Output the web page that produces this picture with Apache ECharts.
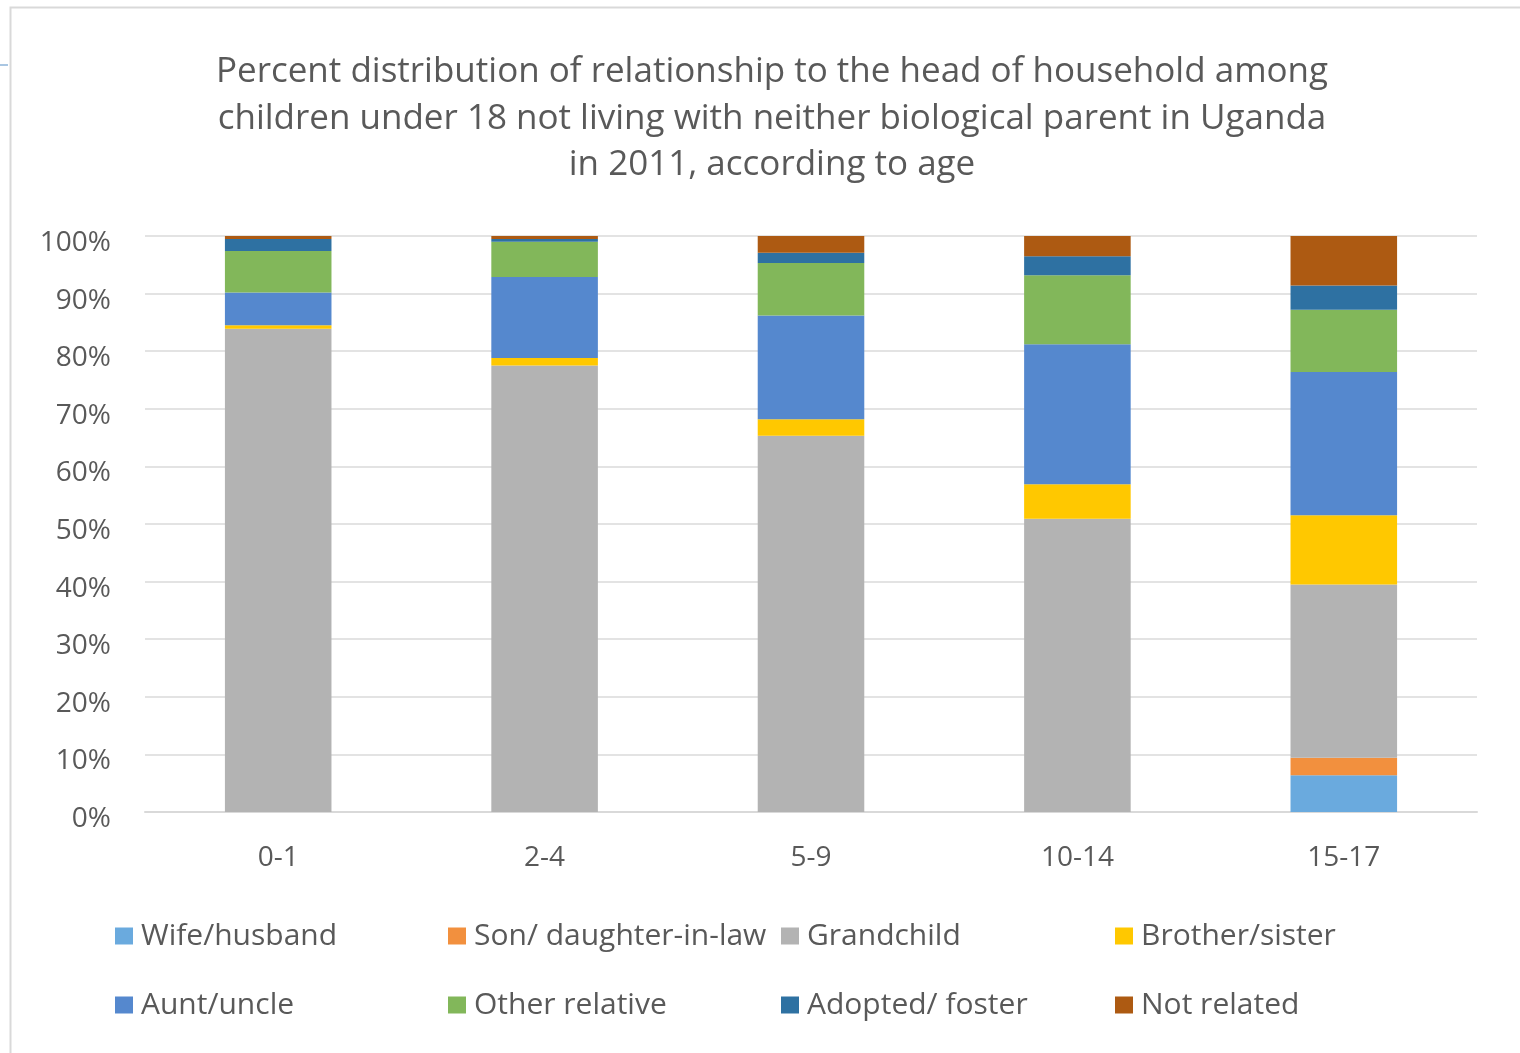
<!DOCTYPE html>
<html>
<head>
<meta charset="utf-8">
<script src="https://cdn.jsdelivr.net/npm/echarts@6/dist/echarts.min.js"></script>
<style>
  html, body { margin: 0; padding: 0; background: #fff; }
  #chart { width: 1520px; height: 1053px; }
</style>
</head>
<body>
<div id="chart"></div>
<script>
// age groups and shares (percent)
const ageGroups = ['0-1', '2-4', '5-9', '10-14', '15-17'];
const wifeHusband = [0, 0, 0, 0, 6.4];
const sonDaughterInLaw = [0, 0, 0, 0, 3.0];
const grandchild = [83.9, 77.5, 65.3, 50.9, 30.1];
const brotherSister = [0.6, 1.3, 2.9, 6.0, 12.0];
const auntUncle = [5.7, 14.1, 18.0, 24.3, 24.9];
const otherRelative = [7.2, 6.1, 9.1, 12.0, 10.8];
const adoptedFoster = [2.1, 0.5, 1.8, 3.3, 4.2];
const notRelated = [0.5, 0.5, 2.9, 3.5, 8.6];
const yTicks = [0, 10, 20, 30, 40, 50, 60, 70, 80, 90, 100];

const seriesDefs = [
  { name: 'Wife/husband', data: wifeHusband, color: '#6aaade' },
  { name: 'Son/ daughter-in-law', data: sonDaughterInLaw, color: '#f2903e' },
  { name: 'Grandchild', data: grandchild, color: '#b3b3b3' },
  { name: 'Brother/sister', data: brotherSister, color: '#ffc800' },
  { name: 'Aunt/uncle', data: auntUncle, color: '#5588ce' },
  { name: 'Other relative', data: otherRelative, color: '#82b75a' },
  { name: 'Adopted/ foster', data: adoptedFoster, color: '#2e71a2' },
  { name: 'Not related', data: notRelated, color: '#ad5a12' }
];

const fontFam = '"Open Sans", "Noto Sans", sans-serif';
const textColor = '#595959';

var myChart = echarts.init(document.getElementById('chart'));

// one vertical legend per column so the columns line up like the original
const legendCols = [
  { left: 115, names: ['Wife/husband', 'Aunt/uncle'] },
  { left: 448, names: ['Son/ daughter-in-law', 'Other relative'] },
  { left: 781, names: ['Grandchild', 'Adopted/ foster'] },
  { left: 1115, names: ['Brother/sister', 'Not related'] }
];

const option = {
  backgroundColor: '#fff',
  animation: false,
  title: {
    text: 'Percent distribution of relationship to the head of household among\nchildren under 18 not living with neither biological parent in Uganda\nin 2011, according to age',
    left: 767,
    textAlign: 'center',
    top: 44,
    textStyle: {
      color: textColor,
      fontFamily: fontFam,
      fontWeight: 'normal',
      fontSize: 35,
      lineHeight: 46.5
    }
  },
  graphic: [
    {
      type: 'rect',
      shape: { x: 10.5, y: 7.5, width: 1520, height: 1060 },
      style: { fill: 'none', stroke: '#d9d9d9', lineWidth: 2 },
      silent: true
    },
    {
      type: 'line',
      shape: { x1: 0, y1: 65, x2: 8, y2: 65 },
      style: { stroke: '#8db3d9', lineWidth: 1.5 },
      silent: true
    }
  ],
  legend: legendCols.map(col => ({
    data: col.names,
    orient: 'vertical',
    left: col.left,
    top: 919,
    padding: 0,
    itemGap: 35,
    itemWidth: 18,
    itemHeight: 17,
    icon: 'rect',
    selectedMode: false,
    textStyle: {
      color: textColor,
      fontFamily: fontFam,
      fontSize: 30,
      lineHeight: 34,
      padding: [0, 0, 0, 3]
    }
  })),
  grid: {
    left: 145,
    right: 43,
    top: 236,
    bottom: 241,
    containLabel: false
  },
  xAxis: {
    type: 'category',
    data: ageGroups,
    axisLine: { show: true, lineStyle: { color: '#d9d9d9', width: 2 } },
    axisTick: { show: false },
    axisLabel: {
      color: textColor,
      fontFamily: fontFam,
      fontSize: 28,
      margin: 32
    }
  },
  yAxis: {
    type: 'value',
    min: 0,
    max: 100,
    interval: 10,
    axisLine: { show: false },
    axisTick: { show: false },
    splitLine: { lineStyle: { color: '#e3e3e3', width: 2 } },
    axisLabel: {
      color: textColor,
      fontFamily: fontFam,
      fontSize: 28,
      margin: 34,
      verticalAlign: 'top',
      lineHeight: 14,
      formatter: v => yTicks.indexOf(v) >= 0 ? v + '%' : ''
    }
  },
  series: seriesDefs.map(s => ({
    name: s.name,
    type: 'bar',
    stack: 'total',
    barWidth: '40%',
    data: s.data,
    itemStyle: { color: s.color },
    emphasis: { disabled: true }
  }))
};

myChart.setOption(option);
</script>
</body>
</html>
